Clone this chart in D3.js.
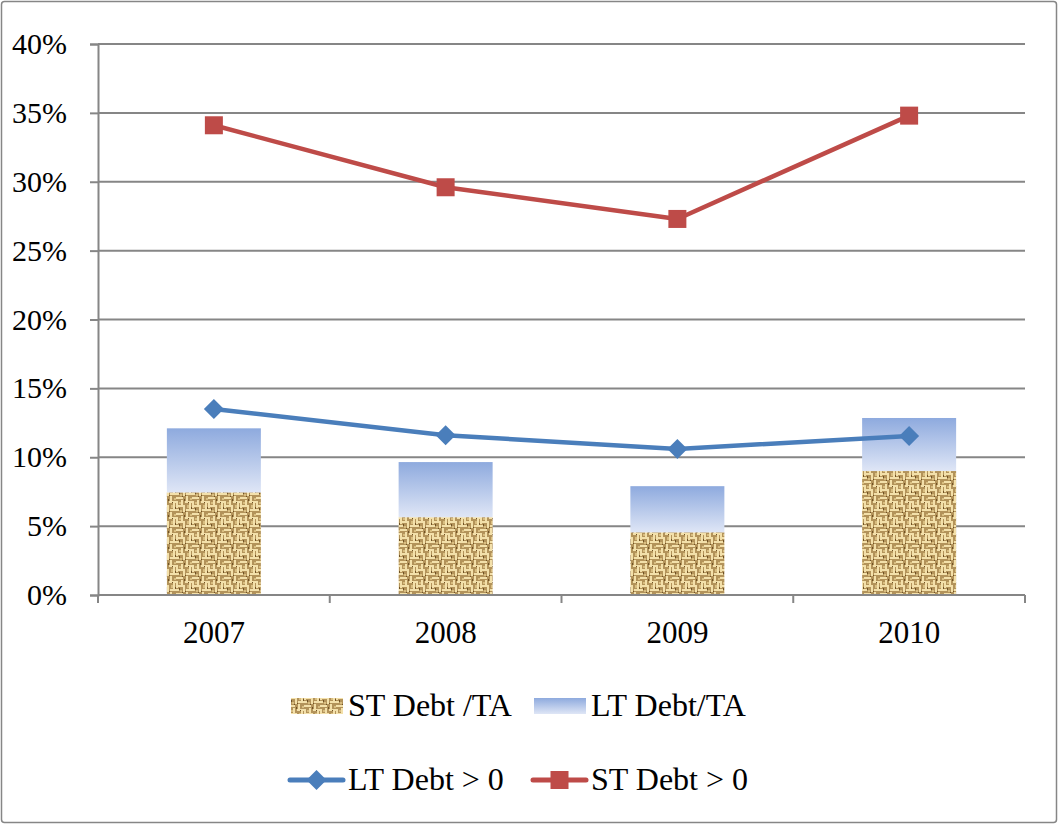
<!DOCTYPE html>
<html><head><meta charset="utf-8">
<script src="https://cdn.jsdelivr.net/npm/d3@7"></script>
<style>
html,body{margin:0;padding:0;background:#fff;}
svg{display:block;}
text{font-family:"Liberation Serif","Times New Roman",serif;fill:#000;}
</style></head>
<body>
<script>
const years = ["2007","2008","2009","2010"];
const stDebtTA = [7.45, 5.65, 4.55, 9.0];
const ltDebtTA = [4.65, 4.0, 3.35, 3.85];
const ltDebtPos = [13.5, 11.6, 10.6, 11.55];
const stDebtPos = [34.1, 29.6, 27.3, 34.8];
const yTicks = [0,5,10,15,20,25,30,35,40];

const W = 1059, H = 825;
const svg = d3.select("body").append("svg").attr("width", W).attr("height", H);
const defs = svg.append("defs");

// gradient for LT bars
const grad = defs.append("linearGradient").attr("id","ltGrad").attr("x1",0).attr("y1",0).attr("x2",0).attr("y2",1);
grad.append("stop").attr("offset","0%").attr("stop-color","#8eaade");
grad.append("stop").attr("offset","100%").attr("stop-color","#dfe6f6");

// burlap-like woven pattern (coarse)
const pat = defs.append("pattern").attr("id","burlap").attr("patternUnits","userSpaceOnUse").attr("width",16).attr("height",16);
pat.append("rect").attr("width",16).attr("height",16).attr("fill","#b3935a");
const light = "#f3e0aa", mid = "#d8bd80", dark = "#6f5226";
const segs = [
  // horizontal light threads
  [0,1,7,2,light],[9,5,7,2,light],[2,9,7,2,light],[10,13,6,2,light],[0,13,3,2,light],
  // vertical light threads
  [10,0,2,5,light],[5,4,2,5,light],[13,7,2,6,light],[0,5,2,7,light],[7,11,2,5,light],
  // mid tones
  [3,6,2,2,mid],[11,9,2,3,mid],[4,14,2,2,mid],[14,2,2,2,mid],
  // dark gaps
  [8,3,1,2,dark],[3,12,1,2,dark],[12,6,1,1,dark],[15,11,1,2,dark],[6,0,1,1,dark],[9,15,1,1,dark]
];
segs.forEach(d=>pat.append("rect").attr("x",d[0]).attr("y",d[1]).attr("width",d[2]).attr("height",d[3]).attr("fill",d[4]));

// outer frame
svg.append("rect").attr("x",1.5).attr("y",1.5).attr("width",W-4).attr("height",H-4).attr("rx",3)
  .attr("fill","#fff").attr("stroke","#868686").attr("stroke-width",1.5);

const plot = {l:98, r:1025, t:44, b:595};
const x = d3.scaleBand().domain(years).range([plot.l, plot.r]).paddingInner(0).paddingOuter(0);
const y = d3.scaleLinear().domain([0,40]).range([plot.b, plot.t]);

// gridlines
svg.append("g").selectAll("line").data(yTicks.filter(t=>t>0)).join("line")
  .attr("x1",plot.l).attr("x2",plot.r).attr("y1",d=>y(d)).attr("y2",d=>y(d))
  .attr("stroke","#868686").attr("stroke-width",2);

// y axis
const yAxis = svg.append("g").attr("transform",`translate(${plot.l},0)`)
  .call(d3.axisLeft(y).tickValues(yTicks).tickFormat(d=>d+"%").tickSize(8).tickPadding(23));
yAxis.select(".domain").attr("stroke","#868686").attr("stroke-width",2);
yAxis.selectAll(".tick line").attr("stroke","#868686").attr("stroke-width",2);
yAxis.selectAll("text").attr("font-size",30).attr("font-family","Liberation Serif");

// bars
const bw = 94;
const bars = svg.append("g");
bars.selectAll("rect.st").data(years).join("rect").attr("class","st")
  .attr("x",d=>x(d)+x.bandwidth()/2-bw/2).attr("width",bw)
  .attr("y",(d,i)=>y(stDebtTA[i])).attr("height",(d,i)=>y(0)-y(stDebtTA[i]))
  .attr("fill","url(#burlap)");
bars.selectAll("rect.lt").data(years).join("rect").attr("class","lt")
  .attr("x",d=>x(d)+x.bandwidth()/2-bw/2).attr("width",bw)
  .attr("y",(d,i)=>y(stDebtTA[i]+ltDebtTA[i])).attr("height",(d,i)=>y(stDebtTA[i])-y(stDebtTA[i]+ltDebtTA[i]))
  .attr("fill","url(#ltGrad)");

// x axis
const xAxis = svg.append("g").attr("transform",`translate(0,${plot.b})`)
  .call(d3.axisBottom(x).tickSize(0).tickPadding(26));
xAxis.select(".domain").remove();
xAxis.selectAll("text").attr("font-size",31).attr("font-family","Liberation Serif");
svg.append("line").attr("x1",plot.l).attr("x2",plot.r).attr("y1",plot.b).attr("y2",plot.b).attr("stroke","#868686").attr("stroke-width",2);
svg.append("g").selectAll("line").data([0,1,2,3,4]).join("line")
  .attr("x1",i=>plot.l+i*x.bandwidth()).attr("x2",i=>plot.l+i*x.bandwidth())
  .attr("y1",plot.b).attr("y2",plot.b+8).attr("stroke","#868686").attr("stroke-width",2);

// lines
const cx = d=>x(d)+x.bandwidth()/2;
const blue = "#4a7ebb", red = "#be4b48";
const lineGen = vals => d3.line().x((d,i)=>cx(years[i])).y(d=>y(d))(vals);
svg.append("path").attr("d",lineGen(ltDebtPos)).attr("fill","none").attr("stroke",blue).attr("stroke-width",4.5).attr("stroke-linejoin","round");
svg.append("path").attr("d",lineGen(stDebtPos)).attr("fill","none").attr("stroke",red).attr("stroke-width",4.5).attr("stroke-linejoin","round");
const diamond = d3.symbol().type(d3.symbolSquare).size(200);
svg.append("g").selectAll("path").data(ltDebtPos).join("path")
  .attr("d",diamond).attr("transform",(d,i)=>`translate(${cx(years[i])},${y(d)}) rotate(45)`).attr("fill",blue);
svg.append("g").selectAll("rect").data(stDebtPos).join("rect")
  .attr("x",(d,i)=>cx(years[i])-9).attr("y",d=>y(d)-9).attr("width",18).attr("height",18).attr("fill",red);

// legend row 1
const leg = svg.append("g");
leg.append("rect").attr("x",291).attr("y",698).attr("width",52).attr("height",16).attr("fill","url(#burlap)");
leg.append("text").attr("x",348).attr("y",716).attr("font-size",32).text("ST Debt /TA");
leg.append("rect").attr("x",534).attr("y",698).attr("width",52).attr("height",16).attr("fill","url(#ltGrad)");
leg.append("text").attr("x",591).attr("y",716).attr("font-size",32).text("LT Debt/TA");
// legend row 2
leg.append("line").attr("x1",290).attr("x2",343).attr("y1",780).attr("y2",780).attr("stroke",blue).attr("stroke-width",5).attr("stroke-linecap","round");
leg.append("path").attr("d",diamond).attr("transform","translate(316.5,780) rotate(45)").attr("fill",blue);
leg.append("text").attr("x",348).attr("y",790).attr("font-size",32).text("LT Debt > 0");
leg.append("line").attr("x1",533).attr("x2",586).attr("y1",780).attr("y2",780).attr("stroke",red).attr("stroke-width",5).attr("stroke-linecap","round");
leg.append("rect").attr("x",550.5).attr("y",771).attr("width",18).attr("height",18).attr("fill",red);
leg.append("text").attr("x",591).attr("y",790).attr("font-size",32).text("ST Debt > 0");
</script>
</body></html>
